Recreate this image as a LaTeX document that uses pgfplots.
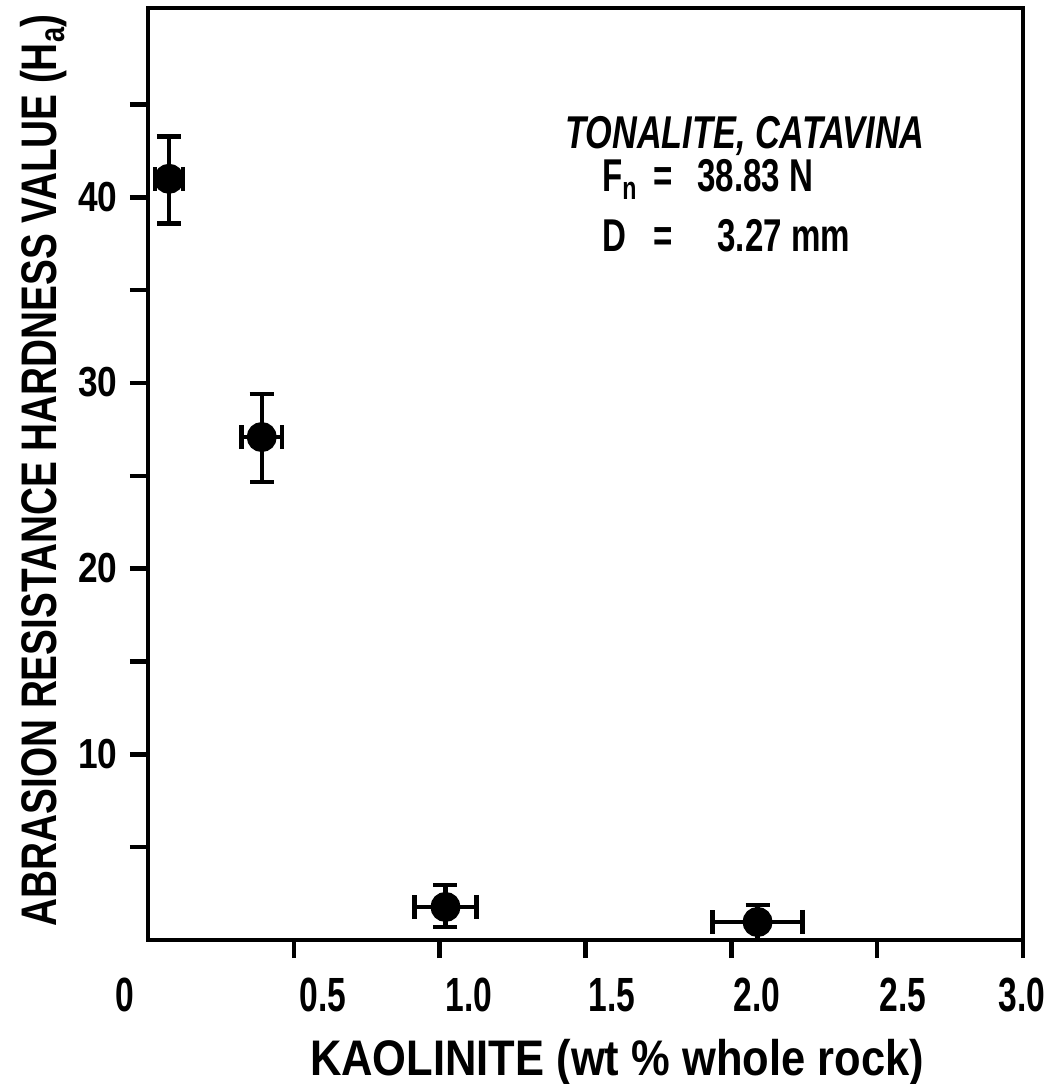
\documentclass[border=0pt]{standalone}
\usepackage{pgfplots}
\pgfplotsset{compat=1.18}
\usepackage{fontspec}
\setmainfont{Liberation Sans}
\usepackage{graphicx}
\newcommand{\sx}[2]{\scalebox{#1}[1]{#2}}
\pgfplotstableread{
x y ex eyp eym
0.072 41.0 0.048 2.28 2.41
0.39 27.09 0.07 2.31 2.43
1.02 1.78 0.106 1.19 1.08
2.09 0.97 0.154 0.92 0.97
}\datatable
\tikzset{xt/.style={anchor=base, font=\fontsize{24pt}{28pt}\selectfont\bfseries, inner sep=0pt},
 yt/.style={anchor=base east, font=\fontsize{21pt}{25pt}\selectfont\bfseries, inner sep=0pt},
 an/.style={font=\fontsize{23pt}{28pt}\selectfont\bfseries, inner sep=0pt}}
\begin{document}
\begin{tikzpicture}
\useasboundingbox (-74pt,-72pt) rectangle (454.5pt,470pt);
\begin{axis}[
 at={(0,0)}, anchor=south west,
 scale only axis, width=437.5pt, height=466pt,
 xmin=0, xmax=3, ymin=0, ymax=50.2,
 axis line style={line width=2.2pt},
 xtick={0.5,1,1.5,2,2.5,3}, ytick={5,10,15,20,25,30,35,40,45},
 xticklabels={}, yticklabels={},
 tick align=outside, major tick length=9pt,
 tick style={line width=2.2pt, black},
 xtick pos=bottom, ytick pos=left,
 clip=false,
]
\addplot[only marks, mark=*, mark size=6.5pt, black, line width=2pt,
 error bars/.cd, x dir=both, x explicit, y dir=both, y explicit,
 error bar style={line width=2.2pt},
 error mark options={rotate=90, mark size=6pt, line width=2.2pt}]
 table[x=x, y=y, x error=ex, y error plus=eyp, y error minus=eym] {\datatable};

% x tick labels
\node[xt] at (axis cs:-0.0787,-3.85) {\sx{0.7}{0}};
\node[xt] at (axis cs:0.6,-3.85) {\sx{0.7}{0.5}};
\node[xt] at (axis cs:1.1,-3.85) {\sx{0.7}{1.0}};
\node[xt] at (axis cs:1.591,-3.85) {\sx{0.7}{1.5}};
\node[xt] at (axis cs:2.088,-3.85) {\sx{0.7}{2.0}};
\node[xt] at (axis cs:2.588,-3.85) {\sx{0.7}{2.5}};
\node[xt] at (axis cs:2.996,-3.85) {\sx{0.7}{3.0}};
% y tick labels
\node[yt] at (axis cs:-0.103,9.25) {\sx{0.84}{10}};
\node[yt] at (axis cs:-0.103,19.25) {\sx{0.84}{20}};
\node[yt] at (axis cs:-0.103,29.25) {\sx{0.84}{30}};
\node[yt] at (axis cs:-0.103,39.25) {\sx{0.84}{40}};
% axis labels
\node[anchor=base, font=\fontsize{25pt}{30pt}\selectfont\bfseries, inner sep=0pt] at (axis cs:1.608,-7.29) {\sx{0.87}{KAOLINITE (wt \% whole rock)}};
\node[anchor=base, rotate=90, font=\fontsize{25pt}{30pt}\selectfont\bfseries, inner sep=0pt] at (axis cs:-0.312,25.3) {\sx{0.775}{ABRASION RESISTANCE HARDNESS VALUE (H\textsubscript{a})}};
% annotation
\node[an, anchor=base west, font=\fontsize{23pt}{28pt}\selectfont\bfseries\itshape] at (axis cs:1.43,42.63) {\sx{0.745}{TONALITE, CATAVINA}};
\node[an, anchor=base west] at (axis cs:1.556,40.31) {\sx{0.72}{F\textsubscript{n}}};
\node[an, anchor=base] at (axis cs:1.766,40.31) {\sx{0.72}{=}};
\node[an, anchor=base west] at (axis cs:1.882,40.31) {\sx{0.72}{38.83 N}};
\node[an, anchor=base west] at (axis cs:1.556,37.08) {\sx{0.72}{D}};
\node[an, anchor=base] at (axis cs:1.766,37.08) {\sx{0.72}{=}};
\node[an, anchor=base west] at (axis cs:1.951,37.08) {\sx{0.72}{3.27 mm}};
\end{axis}
\end{tikzpicture}
\end{document}
